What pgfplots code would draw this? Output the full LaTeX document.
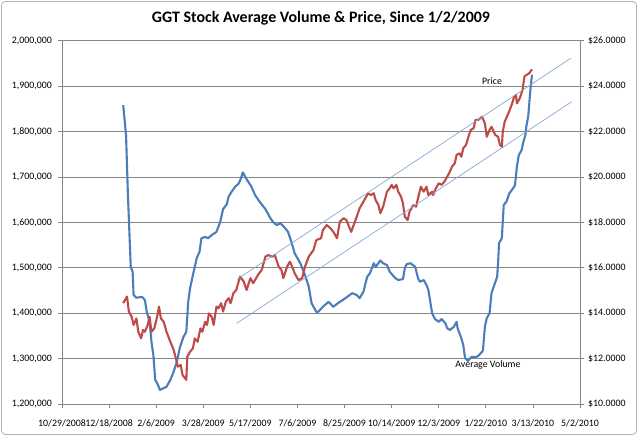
\documentclass[border=0pt]{standalone}
\usepackage{pgfplots}
\pgfplotsset{compat=1.18}
\usepackage{pgfplotstable}
\usepackage{fontspec}
\setmainfont{Carlito}
\definecolor{volblue}{HTML}{4A7EBB}
\definecolor{pricered}{HTML}{BE4B48}
\definecolor{trend}{HTML}{86A9D4}
\definecolor{gridgray}{HTML}{868686}

\pgfplotstableread{
date vol
39815 1858000
39818 1792000
39820 1660000
39823 1502000
39825 1491000
39826 1440000
39829 1434000
39835 1436000
39838 1429000
39840 1403000
39843 1381000
39845 1337000
39847 1308000
39849 1253000
39851 1246000
39854 1231000
39858 1235000
39861 1238000
39865 1253000
39868 1268000
39872 1293000
39875 1323000
39879 1348000
39882 1359000
39884 1425000
39886 1455000
39889 1484000
39893 1521000
39896 1535000
39898 1565000
39902 1568000
39905 1565000
39909 1572000
39914 1579000
39916 1590000
39918 1601000
39921 1629000
39925 1640000
39927 1657000
39930 1667000
39934 1679000
39937 1684000
39939 1691000
39942 1710000
39946 1695000
39951 1679000
39955 1660000
39960 1645000
39966 1629000
39971 1610000
39974 1601000
39978 1594000
39982 1598000
39987 1587000
39990 1579000
39994 1554000
39997 1532000
40003 1510000
40008 1484000
40012 1458000
40015 1422000
40020 1403000
40022 1403000
40027 1414000
40033 1425000
40038 1414000
40043 1422000
40051 1433000
40058 1444000
40063 1440000
40066 1433000
40070 1447000
40074 1480000
40077 1488000
40081 1510000
40083 1502000
40088 1516000
40091 1510000
40095 1506000
40098 1491000
40104 1477000
40107 1473000
40112 1475000
40114 1499000
40116 1508000
40120 1510000
40125 1502000
40128 1477000
40130 1469000
40134 1473000
40137 1462000
40139 1451000
40143 1400000
40146 1387000
40150 1381000
40153 1387000
40157 1378000
40159 1367000
40162 1363000
40166 1370000
40169 1381000
40170 1367000
40172 1356000
40174 1345000
40176 1330000
40178 1301000
40181 1295000
40185 1304000
40189 1303000
40192 1306000
40196 1315000
40197 1319000
40199 1370000
40201 1389000
40204 1400000
40206 1444000
40209 1462000
40212 1480000
40213 1510000
40214 1554000
40217 1565000
40219 1638000
40222 1646000
40225 1664000
40229 1675000
40231 1682000
40233 1723000
40235 1748000
40238 1759000
40240 1778000
40242 1792000
40243 1811000
40245 1833000
40247 1884000
40249 1925000
}\voltable

\pgfplotstableread{
date price
39815 14.44
39819 14.73
39821 14.07
39824 13.84
39826 13.48
39829 13.77
39831 13.18
39834 12.89
39836 13.26
39838 13.18
39841 13.48
39843 13.84
39845 13.18
39848 13.33
39851 13.84
39853 14.29
39855 13.77
39858 13.62
39861 13.18
39865 12.74
39868 12.45
39870 12.16
39873 11.64
39876 11.72
39878 11.28
39882 11.06
39883 12.08
39886 12.30
39889 12.45
39891 12.89
39894 12.74
39897 13.33
39899 13.18
39902 13.62
39904 13.48
39906 13.99
39909 13.84
39911 13.48
39914 14.29
39916 14.21
39919 14.44
39921 14.07
39924 14.51
39927 14.66
39929 14.44
39932 14.88
39935 15.02
39939 15.61
39943 15.39
39946 15.02
39950 15.54
39953 15.32
39958 15.68
39962 15.90
39966 16.49
39969 16.56
39973 16.49
39976 16.56
39980 16.05
39983 15.90
39985 15.54
39989 16.05
39992 16.27
39995 15.98
39997 15.76
40001 15.46
40005 15.54
40008 16.05
40012 16.49
40017 16.78
40020 17.22
40025 17.30
40027 17.66
40031 17.88
40035 17.74
40038 17.59
40042 17.30
40045 18.03
40049 18.18
40052 18.10
40057 17.58
40063 18.25
40066 18.62
40071 18.98
40075 19.28
40078 19.20
40081 19.28
40083 18.98
40086 18.76
40088 18.40
40091 18.69
40095 19.35
40098 19.50
40100 19.65
40102 19.50
40105 19.65
40107 19.35
40110 19.13
40112 18.84
40114 18.25
40117 18.10
40119 18.47
40123 18.76
40126 18.69
40128 19.06
40131 19.57
40134 19.35
40137 19.57
40139 19.20
40143 19.35
40144 19.20
40147 19.50
40150 19.72
40153 19.65
40156 19.79
40158 19.94
40161 20.16
40164 20.45
40167 20.60
40169 20.97
40172 21.04
40174 20.89
40176 21.26
40179 21.41
40181 21.70
40184 22.07
40187 22.14
40189 22.51
40192 22.51
40196 22.65
40199 22.36
40201 21.77
40204 22.07
40206 22.21
40210 21.85
40213 21.77
40215 21.41
40217 21.33
40218 21.99
40220 22.43
40224 22.80
40228 23.24
40230 23.53
40232 23.61
40233 23.24
40236 23.46
40239 23.83
40241 24.42
40243 24.49
40246 24.56
40249 24.74
}\pricetable

\begin{document}
\begin{tikzpicture}[x=1bp,y=1bp]
\useasboundingbox (-62,-32) rectangle (578,404);
\fill[white] (-62,-32) rectangle (578,404);
\draw[draw=black!30, rounded corners=4bp, line width=0.8bp] (-60.5,-30.5) rectangle (574.5,402.5);
\node[font=\fontsize{16}{19}\selectfont\bfseries] at (259,385.5) {GGT Stock Average Volume \& Price, Since 1/2/2009};
\begin{axis}[
  at={(0,0)}, anchor=south west,
  scale only axis, width=518bp, height=363.3bp,
  xmin=39750, xmax=40300, ymin=1200000, ymax=2000000,
  scaled ticks=false,
  axis x line*=bottom, axis y line*=left,
  axis line style={-, gridgray, line width=0.7bp},
  xtick={39750,39800,39850,39900,39950,40000,40050,40100,40150,40200,40250,40300},
  xticklabels={10/29/2008,12/18/2008,2/6/2009,3/28/2009,5/17/2009,7/6/2009,8/25/2009,10/14/2009,12/3/2009,1/22/2010,3/13/2010,5/2/2010},
  ytick={1200000,1300000,1400000,1500000,1600000,1700000,1800000,1900000,2000000},
  yticklabels={{1,200,000},{1,300,000},{1,400,000},{1,500,000},{1,600,000},{1,700,000},{1,800,000},{1,900,000},{2,000,000}},
  tick align=outside, major tick length=4bp,
  tick style={gridgray, line width=0.7bp},
  ymajorgrids, grid style={gridgray, line width=0.7bp},
  ticklabel style={font=\fontsize{9.9}{11}\selectfont, text=black},
  xticklabel style={inner sep=1bp, yshift=-10bp},
  yticklabel style={inner sep=1bp, xshift=-5bp},
  clip=false,
]
\addplot[volblue, line width=2.1bp, line join=round] table[x=date, y=vol] {\voltable};
\end{axis}
\begin{axis}[
  at={(0,0)}, anchor=south west,
  scale only axis, width=518bp, height=363.3bp,
  xmin=39750, xmax=40300, ymin=10, ymax=26,
  scaled ticks=false,
  axis x line=none, axis y line*=right,
  axis line style={-, gridgray, line width=0.7bp},
  ytick={10,12,14,16,18,20,22,24,26},
  yticklabels={\$10.0000,\$12.0000,\$14.0000,\$16.0000,\$18.0000,\$20.0000,\$22.0000,\$24.0000,\$26.0000},
  tick align=outside, major tick length=4bp,
  tick style={gridgray, line width=0.7bp},
  ticklabel style={font=\fontsize{9.9}{11}\selectfont, text=black},
  yticklabel style={inner sep=1bp, xshift=3bp},
  clip=false,
]
\addplot[pricered, line width=2.1bp, line join=round] table[x=date, y=price] {\pricetable};
\addplot[trend, line width=0.7bp] coordinates {(39936.3,15.505) (40290.1,25.225)};
\addplot[trend, line width=0.7bp] coordinates {(39935.5,13.554) (40291.2,23.313)};
\node[font=\fontsize{9.9}{11}\selectfont] at (axis cs:40206.6,24.23) {Price};
\node[font=\fontsize{9.9}{11}\selectfont] at (axis cs:40202.3,11.72) {Average Volume};
\end{axis}
\end{tikzpicture}
\end{document}
